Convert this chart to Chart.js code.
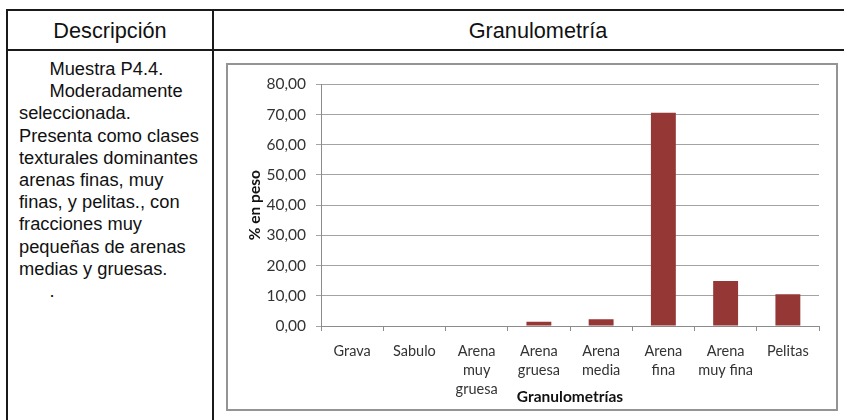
<!DOCTYPE html>
<html>
<head>
<meta charset="utf-8">
<script src="https://cdn.jsdelivr.net/npm/chart.js@4/dist/chart.umd.min.js"></script>
<style>
  body { margin: 0; background: #fff; width: 844px; height: 420px; overflow: hidden; position: relative; font-family: "Liberation Sans", Arial, sans-serif; }
  .line { position: absolute; background: #1a1a1a; }
  .head { position: absolute; top: 18px; font-size: 21.7px; color: #111; text-align: center; }
  #desc { position: absolute; left: 19px; top: 58px; font-size: 18.3px; line-height: 22.2px; white-space: pre; color: #111; }
  #box { position: absolute; left: 226px; top: 63px; width: 608px; height: 344px; border: 2px solid #949494; }
  canvas { display: block; }
</style>
</head>
<body>
<div class="line" style="left:6px; top:9px; width:860px; height:2px;"></div>
<div class="line" style="left:6px; top:49px; width:860px; height:2px;"></div>
<div class="line" style="left:6px; top:9px; width:2px; height:420px;"></div>
<div class="line" style="left:212px; top:9px; width:2px; height:420px;"></div>
<div class="head" style="left:8px; width:204px;">Descripción</div>
<div class="head" style="left:214px; width:648px;">Granulometría</div>
<div id="desc">      Muestra P4.4.
      Moderadamente
seleccionada.
Presenta como clases
texturales dominantes
arenas finas, muy
finas, y pelitas., con
fracciones muy
pequeñas de arenas
medias y gruesas.
      .</div>
<div id="box"><canvas id="granChart" width="608" height="344"></canvas></div>
<script>
var categories = [['Grava'], ['Sabulo'], ['Arena', 'muy', 'gruesa'], ['Arena', 'gruesa'], ['Arena', 'media'], ['Arena', 'fina'], ['Arena', 'muy fina'], ['Pelitas']];
var pesos = [0, 0, 0, 1.4, 2.2, 70.6, 14.9, 10.5];
var yMin = 0, yMax = 80, yStep = 10;

var chartFont = 'Lato, Calibri, sans-serif';

var ctx = document.getElementById('granChart');
var granChart = new Chart(ctx, {
  type: 'bar',
  data: {
    labels: categories,
    datasets: [{
      label: '% en peso',
      data: pesos,
      backgroundColor: '#953735',
      borderWidth: 0,
      barPercentage: 0.4,
      categoryPercentage: 1
    }]
  },
  options: {
    responsive: false,
    animation: false,
    layout: { padding: { left: 0, top: 15, right: 17, bottom: 0 } },
    plugins: { legend: { display: false }, tooltip: { enabled: false } },
    scales: {
      x: {
        afterFit: function(scale) { scale.height = 83; },
        grid: { display: true, drawOnChartArea: false, offset: true, tickLength: 5, color: '#8c8c8c' },
        border: { color: '#8c8c8c' },
        ticks: {
          padding: 11,
          maxRotation: 0,
          autoSkip: false,
          color: '#333',
          font: { family: chartFont, size: 14.5, lineHeight: 1.31 }
        },
        title: {
          display: true,
          text: 'Granulometrías',
          color: '#111',
          padding: { top: 0, bottom: 3 },
          font: { family: chartFont, size: 15.5, weight: 'bold' }
        }
      },
      y: {
        min: yMin,
        max: yMax,
        afterFit: function(scale) { scale.width = 93; },
        grid: { color: '#a3a3a3', tickLength: 5 },
        border: { color: '#8c8c8c' },
        ticks: {
          stepSize: yStep,
          padding: 10,
          color: '#333',
          font: { family: chartFont, size: 15.5 },
          callback: function(v) { return v.toFixed(2).replace('.', ','); }
        },
        title: {
          display: true,
          text: '% en peso',
          color: '#111',
          padding: { top: 18, bottom: 0 },
          font: { family: chartFont, size: 15.5, weight: 'bold' }
        }
      }
    }
  }
});
</script>
</body>
</html>
